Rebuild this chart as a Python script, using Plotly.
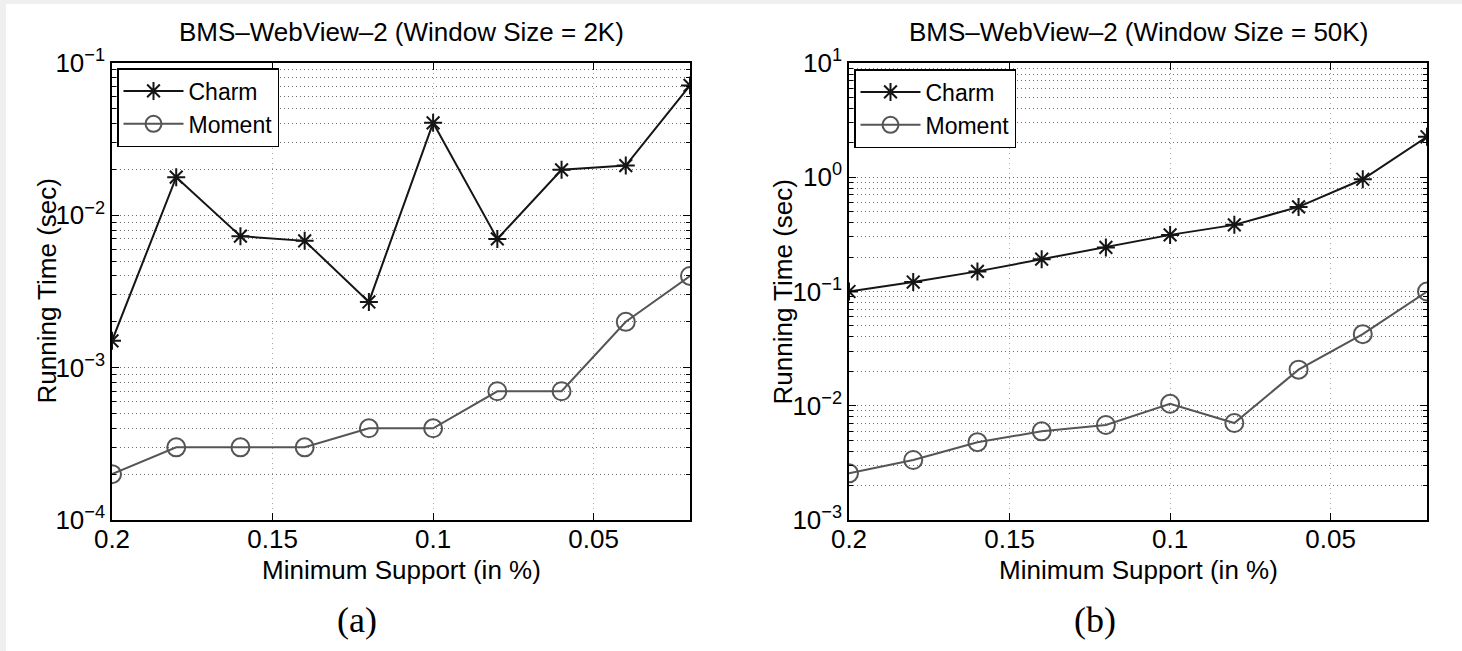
import plotly.graph_objects as go

# ---------------- data ----------------
min_support = [0.20, 0.18, 0.16, 0.14, 0.12, 0.10, 0.08, 0.06, 0.04, 0.02]

charm_2k = [0.0015, 0.0178, 0.0073, 0.0068, 0.0027, 0.0405, 0.0070, 0.0199, 0.0212, 0.0713]
moment_2k = [0.0002, 0.0003, 0.0003, 0.0003, 0.0004, 0.0004, 0.0007, 0.0007, 0.0020, 0.0040]

charm_50k = [0.100, 0.121, 0.150, 0.192, 0.243, 0.313, 0.383, 0.550, 0.960, 2.26]
moment_50k = [0.00256, 0.00335, 0.0048, 0.00597, 0.00678, 0.0104, 0.00706, 0.0207, 0.0423, 0.100]

x_tickvals = [0.20, 0.15, 0.10, 0.05]
x_ticktext = ["0.2", "0.15", "0.1", "0.05"]

y1_tickvals = [1e-4, 1e-3, 1e-2, 1e-1]
y1_ticktext = ["10<sup>−4</sup>", "10<sup>−3</sup>", "10<sup>−2</sup>", "10<sup>−1</sup>"]
y2_tickvals = [1e-3, 1e-2, 1e-1, 1e0, 1e1]
y2_ticktext = ["10<sup>−3</sup>", "10<sup>−2</sup>", "10<sup>−1</sup>", "10<sup>0</sup>", "10<sup>1</sup>"]

titles = ["BMS–WebView–2 (Window Size = 2K)", "BMS–WebView–2 (Window Size = 50K)"]
x_title = "Minimum Support (in %)"
y_title = "Running Time (sec)"
panel_labels = ["(a)", "(b)"]

# ---------------- styling ----------------
W, H = 1462, 651
FONT = "Liberation Sans, Arial, Helvetica, sans-serif"
FS = 26
CHARM_C = "#151515"
MOMENT_C = "#555555"


def minor_vals(lo, hi):
    vals = []
    for e in range(lo, hi):
        for k in range(2, 10):
            vals.append(k * 10 ** e)
    return vals


def px_x(p):
    return p / W


def px_y(p):
    return 1 - p / H


fig = go.Figure()

panels = [
    dict(charm=charm_2k, moment=moment_2k, xa="x", ya="y", legend="legend"),
    dict(charm=charm_50k, moment=moment_50k, xa="x2", ya="y2", legend="legend2"),
]

for p in panels:
    fig.add_trace(go.Scatter(
        x=min_support, y=p["charm"], name="Charm", mode="lines+markers",
        xaxis=p["xa"], yaxis=p["ya"], legend=p["legend"],
        line=dict(color=CHARM_C, width=2),
        marker=dict(symbol="asterisk-open", size=15, color=CHARM_C,
                    line=dict(color=CHARM_C, width=2)),
    ))
    fig.add_trace(go.Scatter(
        x=min_support, y=p["moment"], name="Moment", mode="lines+markers",
        xaxis=p["xa"], yaxis=p["ya"], legend=p["legend"],
        line=dict(color=MOMENT_C, width=2),
        marker=dict(symbol="circle-open", size=18, color=MOMENT_C,
                    line=dict(color=MOMENT_C, width=2)),
    ))

x_domains = [[px_x(112), px_x(690)], [px_x(849), px_x(1427)]]
y_domain = [px_y(520), px_y(63)]

common_x = dict(
    range=[0.2, 0.02], tickmode="array", tickvals=x_tickvals, ticktext=x_ticktext,
    ticks="inside", ticklen=7, tickwidth=1.2, tickcolor="black",
    showline=True, linecolor="black", linewidth=1.5, mirror="ticks",
    showgrid=True, gridcolor="#a8a8a8", griddash="1px,4px", gridwidth=1,
    zeroline=False, tickfont=dict(family=FONT, size=FS, color="black"),
    ticklabelstandoff=-5,
    automargin=False, fixedrange=True,
)

GRID_Y = "#6e6e6e"
common_y = dict(
    type="log", tickmode="array",
    ticks="inside", ticklen=7, tickwidth=1.2, tickcolor="black",
    showline=True, linecolor="black", linewidth=1.5, mirror="ticks",
    showgrid=True, gridcolor=GRID_Y, griddash="1px,3px", gridwidth=1,
    zeroline=False, tickfont=dict(family=FONT, size=FS, color="black"),
    automargin=False, fixedrange=True,
)

fig.update_layout(
    xaxis=dict(domain=x_domains[0], anchor="y", **common_x),
    xaxis2=dict(domain=x_domains[1], anchor="y2", **common_x),
    yaxis=dict(domain=y_domain, anchor="x", range=[-4, -1],
               tickvals=y1_tickvals, ticktext=y1_ticktext,
               minor=dict(tickmode="array", tickvals=minor_vals(-4, -1), ticks="inside",
                          ticklen=4, tickcolor="black", showgrid=True,
                          gridcolor=GRID_Y, griddash="1px,3px", gridwidth=1),
               **common_y),
    yaxis2=dict(domain=y_domain, anchor="x2", range=[-3, 1],
                tickvals=y2_tickvals, ticktext=y2_ticktext,
                minor=dict(tickmode="array", tickvals=minor_vals(-3, 1), ticks="inside",
                           ticklen=4, tickcolor="black", showgrid=True,
                           gridcolor=GRID_Y, griddash="1px,3px", gridwidth=1),
                **common_y),
)

legend_common = dict(
    xanchor="left", yanchor="top", bgcolor="white", bordercolor="black", borderwidth=1.5,
    font=dict(family=FONT, size=23, color="black"), tracegroupgap=0, itemwidth=60,
)
fig.update_layout(
    legend=dict(x=px_x(117), y=px_y(68), **legend_common),
    legend2=dict(x=px_x(854), y=px_y(69), **legend_common),
)

annotations = []
centers = [401, 1138]
ylab_x = [46, 782]
panel_x = [357, 1095]
for i in range(2):
    annotations.append(dict(text=titles[i], x=px_x(centers[i]), y=px_y(32), xref="paper", yref="paper",
                            xanchor="center", yanchor="middle", showarrow=False,
                            font=dict(family=FONT, size=FS, color="black")))
    annotations.append(dict(text=x_title, x=px_x(centers[i]), y=px_y(570), xref="paper", yref="paper",
                            xanchor="center", yanchor="middle", showarrow=False,
                            font=dict(family=FONT, size=FS, color="black")))
    annotations.append(dict(text=y_title, x=px_x(ylab_x[i]), y=px_y(291.5), xref="paper", yref="paper",
                            xanchor="center", yanchor="middle", showarrow=False, textangle=-90,
                            font=dict(family=FONT, size=FS, color="black")))
    annotations.append(dict(text=panel_labels[i], x=px_x(panel_x[i]), y=px_y(620), xref="paper", yref="paper",
                            xanchor="center", yanchor="middle", showarrow=False,
                            font=dict(family="Liberation Serif, DejaVu Serif, serif", size=36, color="black")))

fig.update_layout(
    width=W, height=H, margin=dict(l=0, r=0, t=0, b=0, pad=0),
    paper_bgcolor="#efefef", plot_bgcolor="white",
    showlegend=True, annotations=annotations,
    shapes=[dict(type="rect", xref="paper", yref="paper", x0=px_x(6), x1=1, y0=0, y1=px_y(4),
                 fillcolor="white", line=dict(width=0), layer="below")],
)

fig.write_html(
    "out.html",
    config={"displayModeBar": False},
    post_script="document.body.style.margin='0';document.body.style.overflow='hidden';",
)
